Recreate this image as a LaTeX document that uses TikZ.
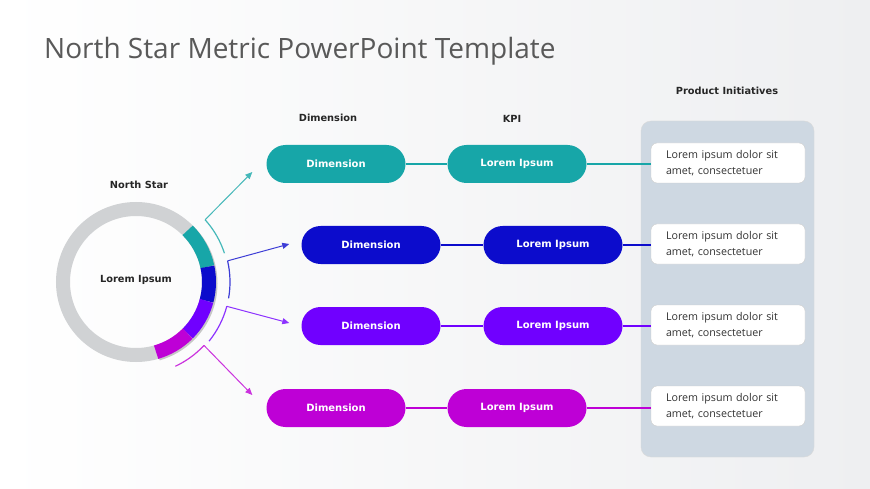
\documentclass[tikz,border=0pt]{standalone}
\usepackage{fontspec}
\setmainfont{Open Sans}
\newfontfamily\vfont{DejaVu Sans}
\usetikzlibrary{arrows.meta}

\definecolor{nsteal}{RGB}{23,166,168}
\definecolor{nsblue}{RGB}{12,12,204}
\definecolor{nspurple}{RGB}{112,0,255}
\definecolor{nsmagenta}{RGB}{190,0,214}
\definecolor{nsring}{RGB}{208,210,212}
\definecolor{nspanel}{RGB}{206,216,226}
\definecolor{nstitle}{RGB}{89,89,89}
\definecolor{nsback}{RGB}{238,239,241}

\tikzset{
  pill/.style={fill=#1, rounded corners=19pt, minimum width=139pt, minimum height=38pt,
    inner sep=0pt, text=white, font=\vfont\bfseries\fontsize{10}{12}\selectfont},
  head/.style={font=\vfont\bfseries\fontsize{9.8}{12}\selectfont, text=black!85},
  item/.style={fill=white, draw=gray!40, rounded corners=6pt, minimum height=40pt,
    text width=124pt, inner xsep=15pt, inner ysep=0pt, align=left,
    font=\fontsize{10.7}{16}\selectfont, text=black!80},
  link/.style={draw=#1, line width=1.3pt},
  spoke/.style={draw=#1!80!white, line width=1pt, -{Triangle[length=7pt,width=6pt]}},
  rim/.style={draw=#1!80!white, line width=1.2pt},
}

\begin{document}
\begin{tikzpicture}[x=1pt, y=-1pt]
	\useasboundingbox (0,0) rectangle (870,489);
	\fill[left color=white, right color=nsback] (0,0) rectangle (870,489);
	\node[anchor=base west, inner sep=0pt, text=nstitle, font=\fontsize{28}{32}\selectfont] (title) at (44,59) {North Star Metric PowerPoint Template};

	\node[head] (hstar) at (139,185) {North Star};
	\node[head] (hdim) at (328,118) {Dimension};
	\node[head] (hkpi) at (512,119) {KPI};
	\node[head] (hini) at (727,91) {Product Initiatives};

	\node[head] (ns) at (136,280) {Lorem Ipsum};
	\draw[nsring, line width=14pt] (136,282) circle[radius=73];
	\draw[gray!45, line width=14pt] (137.5,283.5) ++(-45:73) arc[start angle=-45, end angle=74, radius=73];
	\draw[nsteal, line width=14pt] (136,282) ++(-45:73) arc[start angle=-45, end angle=-12, radius=73];
	\draw[nsblue, line width=14pt] (136,282) ++(-12:73) arc[start angle=-12, end angle=15, radius=73];
	\draw[nspurple, line width=14pt] (136,282) ++(15:73) arc[start angle=15, end angle=45, radius=73];
	\draw[nsmagenta, line width=14pt] (136,282) ++(45:73) arc[start angle=45, end angle=74, radius=73];

	\path (136,282) ++(-42:93) coordinate (s1);
	\path (136,282) ++(-13:94) coordinate (s2);
	\path (136,282) ++(15:94) coordinate (s3);
	\path (136,282) ++(43:93) coordinate (s4);
	\draw[rim=nsteal] (s1) arc[start angle=-42, end angle=-18, radius=93];
	\draw[rim=nsblue] (s2) arc[start angle=-13, end angle=10, radius=94];
	\draw[rim=nspurple] (s3) arc[start angle=15, end angle=39, radius=94];
	\draw[rim=nsmagenta] (s4) arc[start angle=43, end angle=65, radius=93];

	\node[fill=nspanel, draw=gray!30, rounded corners=10pt, minimum width=173pt, minimum height=336pt] (panel) at (727.5,289) {};

	\node[pill=nsteal] (d1) at (336,164) {Dimension};
	\node[pill=nsteal] (k1) at (517,164) {Lorem Ipsum};
	\node[pill=nsblue] (d2) at (371,245) {Dimension};
	\node[pill=nsblue] (k2) at (553,245) {Lorem Ipsum};
	\node[pill=nspurple] (d3) at (371,326) {Dimension};
	\node[pill=nspurple] (k3) at (553,326) {Lorem Ipsum};
	\node[pill=nsmagenta] (d4) at (336,408) {Dimension};
	\node[pill=nsmagenta] (k4) at (517,408) {Lorem Ipsum};

	\node[item] (p1) at (728,163) {Lorem ipsum dolor sit\\amet, consectetuer};
	\node[item] (p2) at (728,244) {Lorem ipsum dolor sit\\amet, consectetuer};
	\node[item] (p3) at (728,325) {Lorem ipsum dolor sit\\amet, consectetuer};
	\node[item] (p4) at (728,406) {Lorem ipsum dolor sit\\amet, consectetuer};

	\draw[link=nsteal] (d1) -- (k1);
	\draw[link=nsteal] (k1.east) -- (k1.east -| p1.west);
	\draw[link=nsblue] (d2) -- (k2);
	\draw[link=nsblue] (k2.east) -- (k2.east -| p2.west);
	\draw[link=nspurple] (d3) -- (k3);
	\draw[link=nspurple] (k3.east) -- (k3.east -| p3.west);
	\draw[link=nsmagenta] (d4) -- (k4);
	\draw[link=nsmagenta] (k4.east) -- (k4.east -| p4.west);

	\coordinate (a1) at ([shift={(-14,8)}]d1.west);
	\coordinate (a2) at ([shift={(-12,-1)}]d2.west);
	\coordinate (a3) at ([shift={(-12,-3)}]d3.west);
	\coordinate (a4) at ([shift={(-14,-13)}]d4.west);
	\draw[spoke=nsteal] (s1) -- (a1);
	\draw[spoke=nsblue] (s2) -- (a2);
	\draw[spoke=nspurple] (s3) -- (a3);
	\draw[spoke=nsmagenta] (s4) -- (a4);
\end{tikzpicture}
\end{document}
